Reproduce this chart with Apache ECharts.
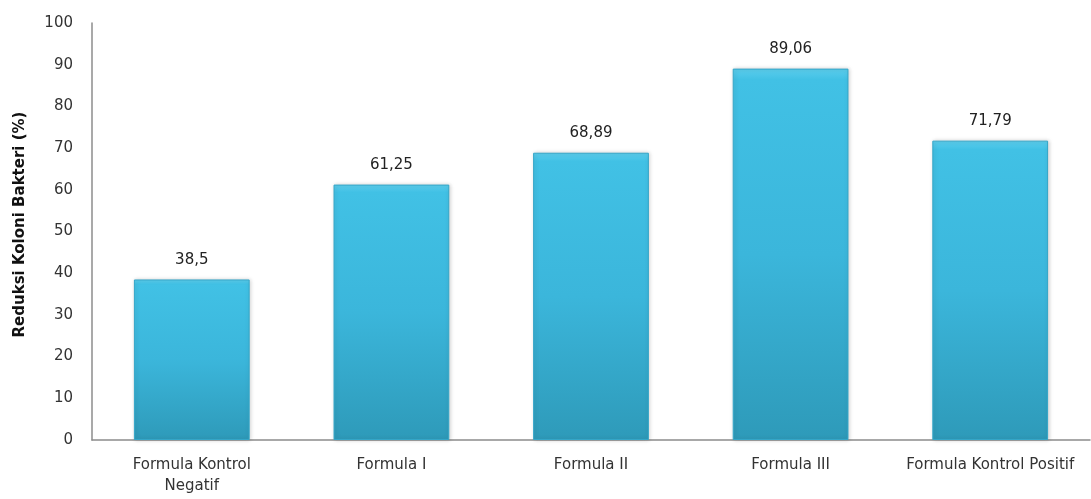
<!DOCTYPE html>
<html><head><meta charset="utf-8">
<script src="https://cdn.jsdelivr.net/npm/echarts@6/dist/echarts.min.js"></script>
<style>html,body{margin:0;padding:0;background:#fff}#c{width:1091px;height:499px}</style>
</head><body><div id="c"></div>
<script>
const categories = ['Formula Kontrol\nNegatif', 'Formula I', 'Formula II', 'Formula III', 'Formula Kontrol Positif'];
const values = [38.5, 61.25, 68.89, 89.06, 71.79];
const valueLabels = ['38,5', '61,25', '68,89', '89,06', '71,79'];
const yAxisName = 'Reduksi Koloni Bakteri (%)';

const chart = echarts.init(document.getElementById('c'));
chart.setOption({
  animation: false,
  grid: {left: 92, right: 1, top: 23, bottom: 59},
  xAxis: {
    type: 'category', data: categories,
    axisLine: {lineStyle: {color: '#8c8c8c', width: 1.5}},
    axisTick: {show: false},
    axisLabel: {color: '#333', fontFamily: 'DejaVu Sans', fontSize: 15, margin: 15, lineHeight: 21, interval: 0}
  },
  yAxis: {
    type: 'value', min: 0, max: 100, interval: 10,
    name: yAxisName, nameLocation: 'middle', nameGap: 64,
    nameTextStyle: {fontFamily: 'DejaVu Sans', fontWeight: 'bold', fontSize: 15, color: '#111', padding: [0, 0, 0, 14]},
    axisLine: {show: true, lineStyle: {color: '#8c8c8c', width: 1.5}},
    axisTick: {show: false},
    splitLine: {show: false},
    axisLabel: {color: '#333', fontFamily: 'DejaVu Sans', fontSize: 15, margin: 19}
  },
  series: [{
    type: 'bar', data: values, barWidth: '58%',
    itemStyle: {
      color: new echarts.graphic.LinearGradient(0, 0, 0, 1, [
        {offset: 0, color: '#5ccdec'},
        {offset: 0.03, color: '#41c1e5'},
        {offset: 0.5, color: '#3bb6db'},
        {offset: 1, color: '#2e9ab9'}
      ]),
      borderColor: '#34a6c8', borderWidth: 1,
      shadowColor: 'rgba(0,0,0,0.18)', shadowBlur: 4, shadowOffsetX: 1, shadowOffsetY: 0
    },
    label: {
      show: true, position: 'top', distance: 12,
      formatter: p => valueLabels[p.dataIndex],
      color: '#222', fontFamily: 'DejaVu Sans', fontSize: 15
    }
  }]
});
</script></body></html>
